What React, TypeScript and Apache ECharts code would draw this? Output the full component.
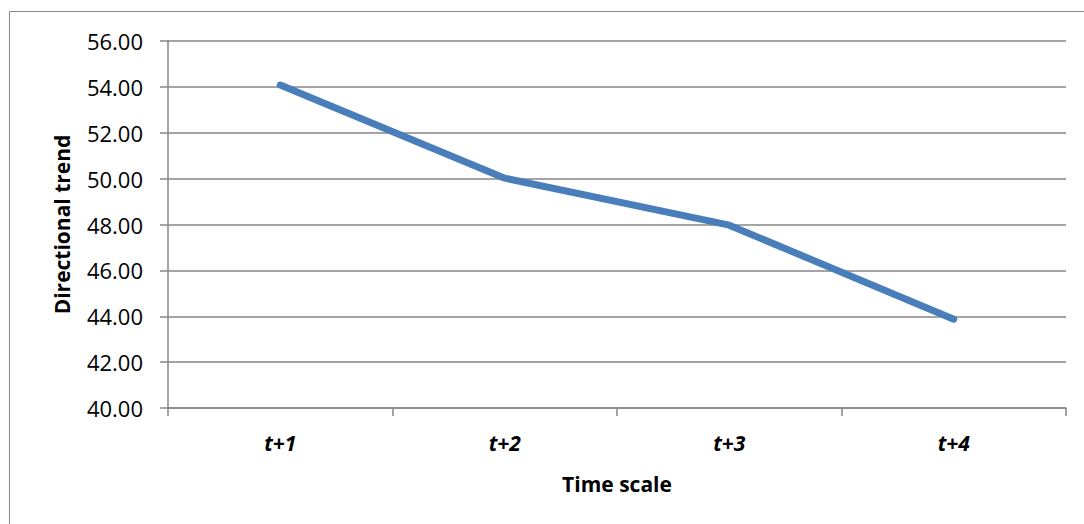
import React, { useEffect, useRef } from "react";
import * as echarts from "echarts";

const categories = ["t+1", "t+2", "t+3", "t+4"];
const trendValues = [54.08, 50.02, 47.97, 43.87];
const yMin = 40;
const yMax = 56;
const yInterval = 2;

export default function App() {
  const ref = useRef<HTMLDivElement>(null);
  useEffect(() => {
    const chart = echarts.init(ref.current!, null, { renderer: "svg" });
    const gray = "#868686";
    chart.setOption({
      animation: false,
      backgroundColor: "#ffffff",
      grid: { left: 168, top: 41, right: 18, bottom: 116, containLabel: false },
      graphic: [
        {
          type: "rect",
          shape: { x: 9.5, y: 11.5, width: 1200, height: 700 },
          style: { fill: "none", stroke: gray, lineWidth: 1 },
          silent: true,
          z: -1,
        },
      ],
      xAxis: {
        type: "category",
        data: categories,
        boundaryGap: true,
        axisLine: { show: true, lineStyle: { color: gray, width: 1.5 } },
        axisTick: { show: true, length: 8, alignWithLabel: false, lineStyle: { color: gray, width: 1.5 } },
        axisLabel: {
          color: "#000",
          fontFamily: "Open Sans",
          fontSize: 21,
          fontWeight: "bold",
          fontStyle: "italic",
          margin: 24,
        },
        name: "Time scale",
        nameLocation: "middle",
        nameGap: 65,
        nameTextStyle: { color: "#000", fontFamily: "Open Sans", fontSize: 21, fontWeight: "bold" },
      },
      yAxis: {
        type: "value",
        min: yMin,
        max: yMax,
        interval: yInterval,
        axisLine: { show: true, lineStyle: { color: gray, width: 1.5 } },
        axisTick: { show: true, length: 8, lineStyle: { color: gray, width: 1.5 } },
        splitLine: { show: true, lineStyle: { color: gray, width: 1.5 } },
        axisLabel: {
          color: "#000",
          fontFamily: "Open Sans",
          fontSize: 22,
          margin: 25,
          formatter: (v: number) => v.toFixed(2),
        },
        name: "Directional trend",
        nameLocation: "middle",
        nameGap: 96,
        nameRotate: 90,
        nameTextStyle: { color: "#000", fontFamily: "Open Sans", fontSize: 21, fontWeight: "bold" },
      },
      series: [
        {
          type: "line",
          data: trendValues,
          symbol: "none",
          lineStyle: { color: "#4a7ebb", width: 7, cap: "round", join: "round" },
        },
      ],
    });
    return () => chart.dispose();
  }, []);
  return (
    <div
      ref={ref}
      style={{ position: "fixed", left: 0, top: 0, width: 1084, height: 524, background: "#fff" }}
    />
  );
}
